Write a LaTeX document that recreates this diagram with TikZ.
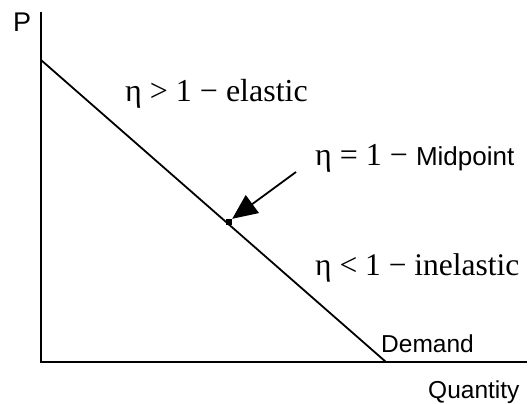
\documentclass[tikz,border=0pt]{standalone}
\usepackage{fontspec}
\setmainfont{Liberation Serif}
\newfontfamily\sansfam{Liberation Sans}
\usetikzlibrary{arrows.meta}
\tikzset{
  axis/.style={line width=2pt},
  curve/.style={line width=1.8pt},
  serif/.style={font=\fontsize{32}{36}\selectfont, inner sep=0pt, anchor=base west},
  sanslab/.style={font=\sansfam\fontsize{24.5}{28}\selectfont, inner sep=0pt, anchor=base west},
  pointer/.style={line width=1.8pt, -{Triangle[length=25pt,width=22pt]}},
  dot/.style={fill=black, minimum size=6pt, inner sep=0pt, rectangle}
}
\begin{document}
\begin{tikzpicture}[x=1pt,y=-1pt]
\useasboundingbox (0,0) rectangle (531,404);
\coordinate (ytop) at (41,12);
\coordinate (orig) at (41,362);
\coordinate (xend) at (527,362);
\coordinate (dtop) at (41,60);
\coordinate (dbot) at (386,362);
\draw[axis] (ytop) -- (orig) -- (xend);
\draw[curve] (dtop) -- (dbot);
\node[dot] (mid) at (229,222) {};
\coordinate (tail) at (296,172);
\draw[pointer] (tail) -- (mid.north east);
\node[sanslab, font=\sansfam\fontsize{27}{30}\selectfont] (P) at (13,32) {P};
\node[sanslab] (Q) at (428,398) {Quantity};
\node[sanslab] (D) at (381,352) {Demand};
\node[serif] (el) at (125,102) {η > 1 − elastic};
\node[serif] (mp) at (315,165) {η = 1 − {\sansfam\fontsize{26}{28}\selectfont Midpoint}};
\node[serif, font=\fontsize{31.5}{36}\selectfont] (in) at (315,275) {η < 1 − inelastic};
\end{tikzpicture}
\end{document}
